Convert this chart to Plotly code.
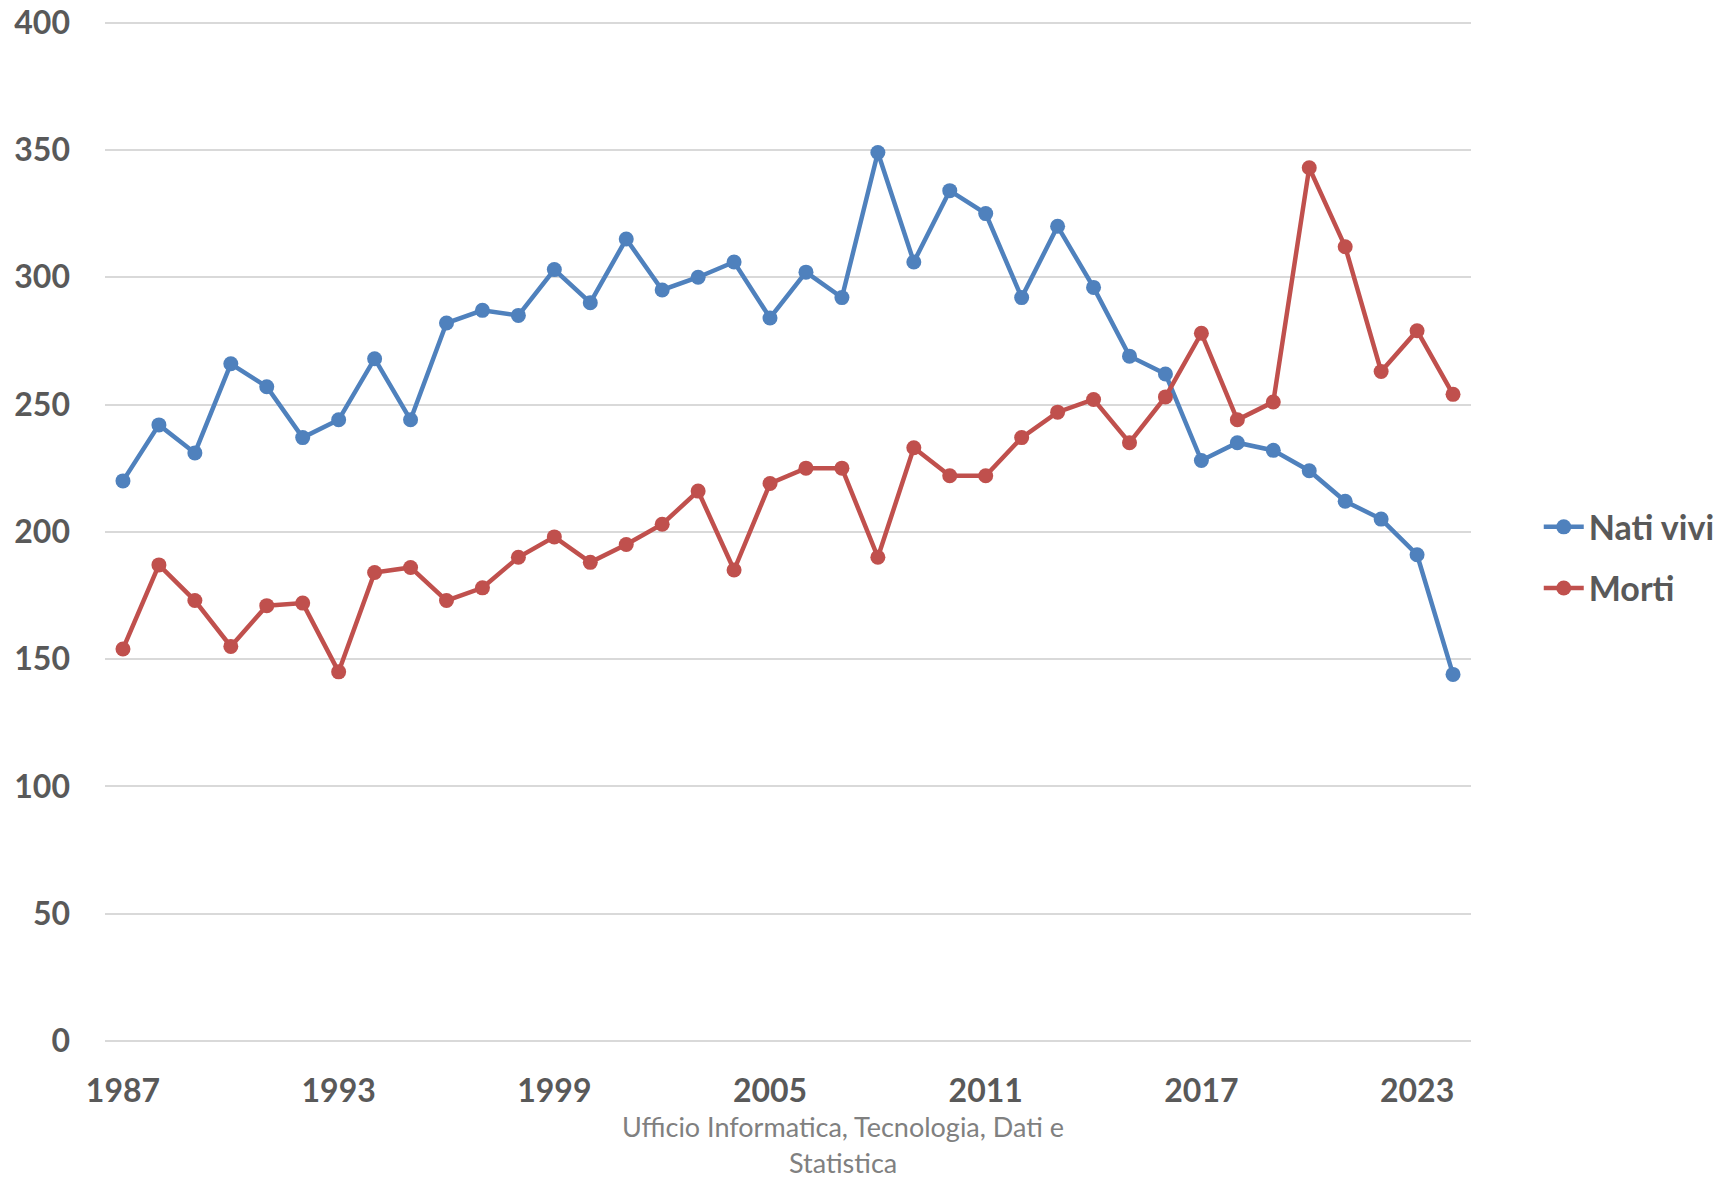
import plotly.graph_objects as go

years = list(range(1987, 2025))
nati_vivi = [220, 242, 231, 266, 257, 237, 244, 268, 244, 282, 287, 285, 303, 290, 315,
             295, 300, 306, 284, 302, 292, 349, 306, 334, 325, 292, 320, 296, 269, 262,
             228, 235, 232, 224, 212, 205, 191, 144]
morti = [154, 187, 173, 155, 171, 172, 145, 184, 186, 173, 178, 190, 198, 188, 195,
         203, 216, 185, 219, 225, 225, 190, 233, 222, 222, 237, 247, 252, 235, 253,
         278, 244, 251, 343, 312, 263, 279, 254]
x_ticks = [1987, 1993, 1999, 2005, 2011, 2017, 2023]
y_ticks = [0, 50, 100, 150, 200, 250, 300, 350, 400]
footer = ["Ufficio Informatica, Tecnologia, Dati e", "Statistica"]

BLUE = "#4F81BD"
RED = "#C0504D"
TXT = "#595959"
GRID = "#D9D9D9"

fig = go.Figure()
fig.add_trace(go.Scatter(x=years, y=nati_vivi, name="Nati vivi", mode="lines+markers",
                         line=dict(color=BLUE, width=4.5), marker=dict(size=15, color=BLUE),
                         legendgroup="a"))
fig.add_trace(go.Scatter(x=years, y=morti, name="Morti", mode="lines+markers",
                         line=dict(color=RED, width=4.5), marker=dict(size=15, color=RED),
                         legendgroup="b"))

W, H = 1735, 1178
Y_TOP_PX, Y_ZERO_PX = 23, 1041          # target pixel rows of 400 and 0
Y_MAX = 403                               # small headroom so the 400 gridline is drawn
ppu = (Y_ZERO_PX - Y_TOP_PX) / 400.0
plot_top = Y_ZERO_PX - Y_MAX * ppu
L = 105
T = int(round(plot_top))
R = W - 1471
B = H - Y_ZERO_PX

fig.update_layout(
    width=W, height=H,
    margin=dict(l=L, r=R, t=T, b=B, pad=0),
    paper_bgcolor="white", plot_bgcolor="white",
    font=dict(family="Lato", color=TXT, size=32),
    showlegend=True,
    legend=dict(x=1.0496, y=0.471, xanchor="left", yanchor="middle",
                font=dict(family="Lato", size=34, color=TXT, weight="bold"),
                traceorder="grouped", tracegroupgap=14, itemwidth=40,
                bgcolor="rgba(0,0,0,0)"),
    xaxis=dict(range=[1986.5, 2024.5], tickmode="array", tickvals=x_ticks,
               ticktext=[str(v) for v in x_ticks], showgrid=False, zeroline=False,
               showline=False, ticks="", ticklabelstandoff=28, automargin=False,
               tickfont=dict(family="Lato", size=32, color=TXT, weight="bold")),
    yaxis=dict(range=[0, Y_MAX], tickmode="array", tickvals=y_ticks,
               showgrid=True, gridcolor=GRID, gridwidth=1.5, zeroline=True,
               zerolinecolor=GRID, zerolinewidth=1.5, showline=False, ticks="",
               ticklabelstandoff=34, automargin=False, ticklabeloverflow="allow",
               tickfont=dict(family="Lato", size=32, color=TXT, weight="bold")),
)

plot_w = W - L - R
plot_h = H - T - B
cx = (843 - L) / plot_w
for txt, ypx in zip(footer, [1126, 1162]):
    fig.add_annotation(text=txt, xref="paper", yref="paper",
                       x=cx, y=(H - B - ypx) / plot_h, xanchor="center", yanchor="middle",
                       showarrow=False, font=dict(family="Lato", size=27, color="#808080"))

fig.write_html("out.html", config={"displayModeBar": False},
               post_script="document.body.style.margin='0';")
